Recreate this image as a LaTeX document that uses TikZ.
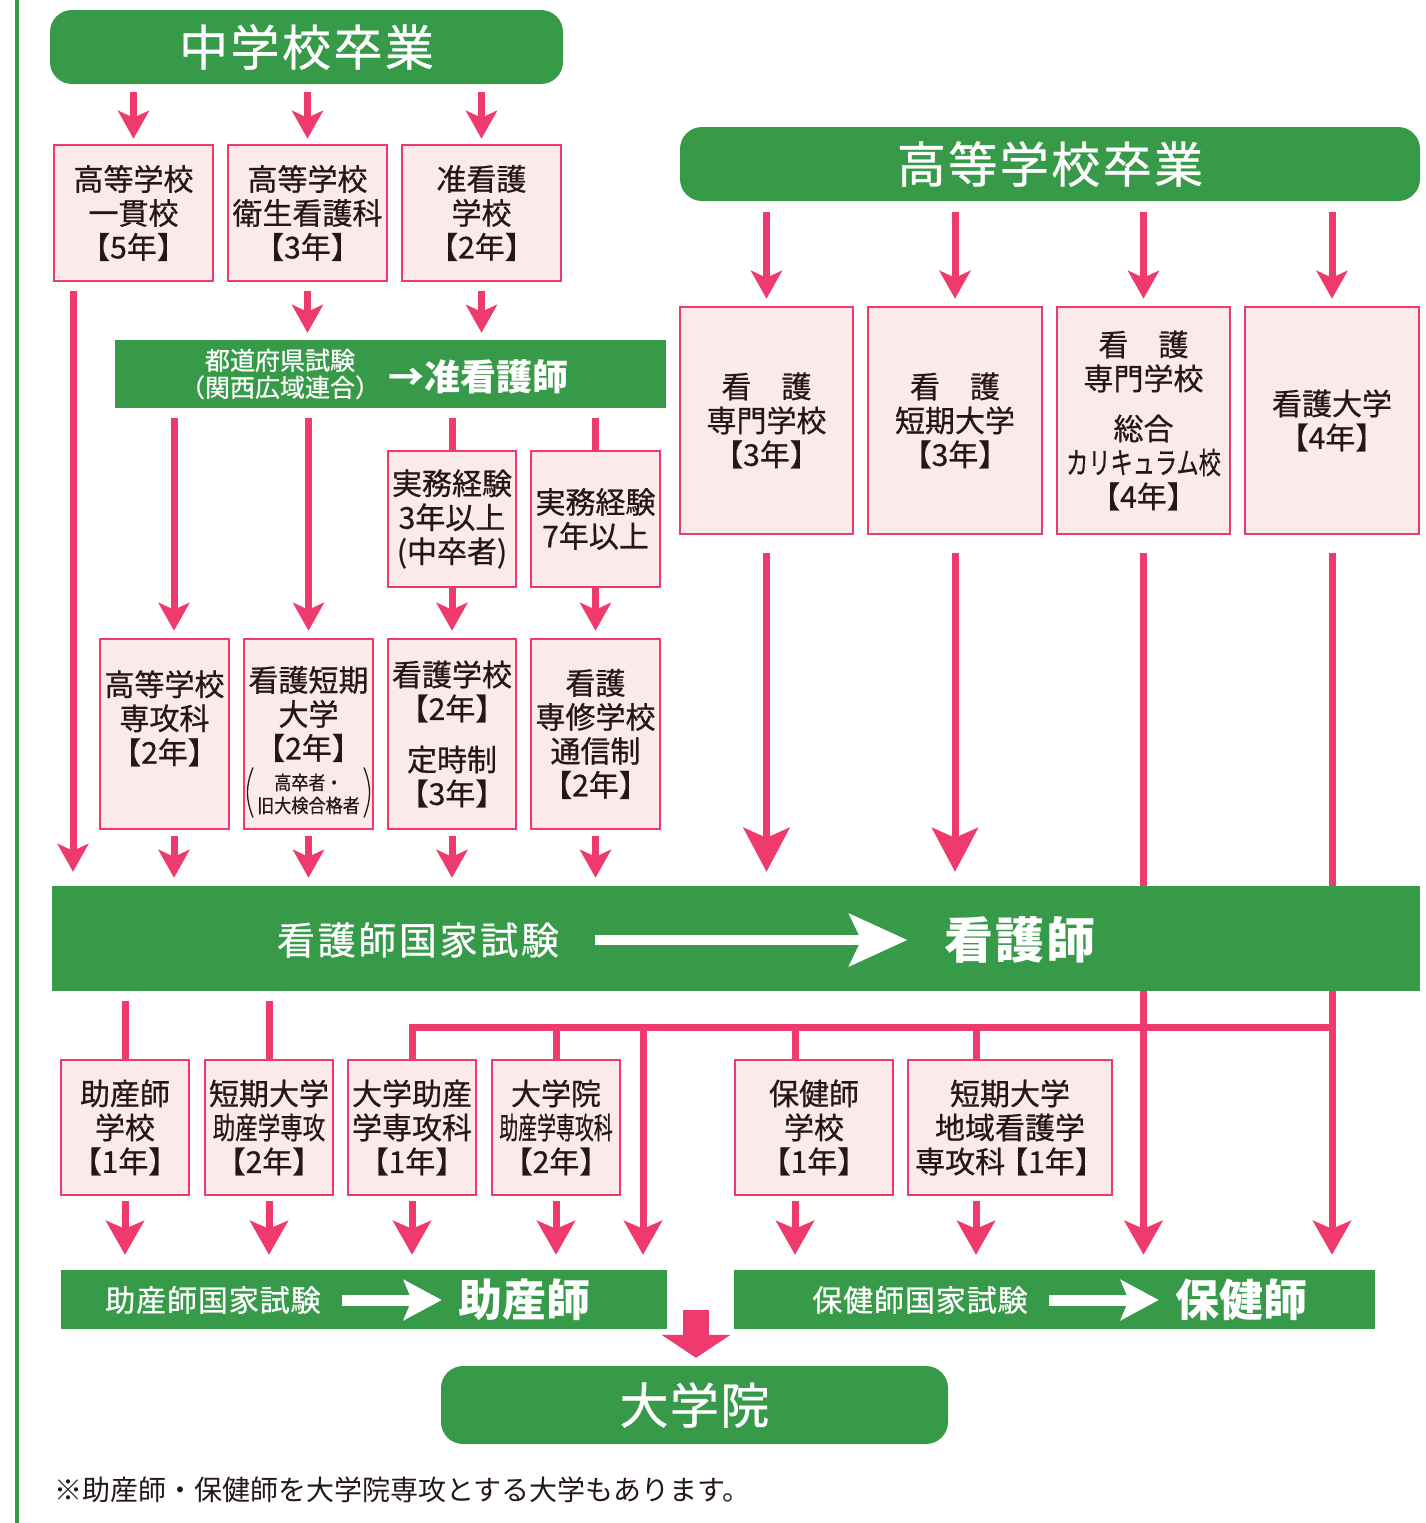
\documentclass[tikz,border=0pt]{standalone}
\usepackage{fontspec}
\newfontfamily\jp{Noto Sans CJK JP}
\newfontfamily\jpm{Noto Sans CJK JP}[FakeBold=0.7]
\usetikzlibrary{arrows.meta}
\definecolor{gr}{HTML}{379A48}
\definecolor{pk}{HTML}{EE3A6C}
\definecolor{bxf}{HTML}{FCE9EA}
\definecolor{tx}{HTML}{231815}
\pgfdeclarelayer{bg}
\pgfsetlayers{bg,main}
\newcommand\fs[2]{\fontsize{#1}{#2}\selectfont}
\newcommand\cnd[2]{\scalebox{#1}[1]{#2}}
\tikzset{
  bx/.style={draw=pk, fill=bxf, line width=2.5pt, inner sep=0pt, align=center, text=tx, font=\jpm\fs{30}{34}},
  btx/.style={inner sep=0pt, align=center, text=tx, font=\jpm\fs{30}{34}},
  gbar/.style={fill=gr, inner sep=0pt},
  rbar/.style={fill=gr, inner sep=0pt, rounded corners=22pt, text=white, font=\jpm\fs{49}{52}\addfontfeature{LetterSpace=5}},
  wt/.style={text=white, inner sep=0pt, align=center},
  pa/.style={draw=pk, line width=7pt, -{Stealth[length=28pt,width=31pt,inset=7pt]}},
  pb/.style={draw=pk, line width=7pt, -{Stealth[length=34pt,width=38pt,inset=8pt]}},
  pbig/.style={draw=pk, line width=7pt, -{Stealth[length=44pt,width=46pt,inset=10pt]}},
  pl/.style={draw=pk, line width=7pt},
  prn/.style={draw=tx, line width=1.3pt},
}
\begin{document}
\begin{tikzpicture}[x=1pt,y=-1pt]
\useasboundingbox (0,0) rectangle (1426,1523);
\draw[gr, line width=3.5pt] (17,0) -- (17,1523);

% ---- top left
\node[rbar, minimum width=513pt, minimum height=74pt] (jhs) at (306.5,47) {中学校卒業};
\node[bx, minimum width=159pt, minimum height=136pt] (b1) at (133.5,213) {高等学校\\一貫校\\【5年】};
\node[bx, minimum width=159pt, minimum height=136pt] (b2) at (307.5,213) {高等学校\\衛生看護科\\【3年】};
\node[bx, minimum width=159pt, minimum height=136pt] (b3) at (481.5,213) {准看護\\学校\\【2年】};

\node[gbar, minimum width=551pt, minimum height=68pt] (pref) at (390.5,374) {};
\node[wt, font=\jpm\fs{25}{27}] (pr1) at (280,374) {都道府県試験\\（関西広域連合）};
\node[wt, font=\jp\bfseries\fs{36}{40}] (pr2) at (478,377) {→准看護師};

\node[bx, minimum width=128pt, minimum height=136pt] (e1) at (452,519) {実務経験\\3年以上\\(中卒者)};
\node[bx, minimum width=129pt, minimum height=136pt] (e2) at (595.5,519) {実務経験\\7年以上};

\node[bx, minimum width=129pt, minimum height=190pt] (r1) at (164.5,734) {高等学校\\専攻科\\【2年】\\\mbox{}};
\node[bx, minimum width=129pt, minimum height=190pt] (r2) at (308.5,734) {};
\node[btx] (r2t) at (308.5,714) {看護短期\\大学\\【2年】};
\node[btx, font=\jpm\fs{19}{23}] (r2n) at (308.5,794) {\cnd{0.9}{高卒者・}\\\cnd{0.9}{旧大検合格者}};
\draw[prn] ([xshift=-4pt,yshift=6pt]r2n.north west) to[bend right=22] ([xshift=-4pt,yshift=-3pt]r2n.south west);
\draw[prn] ([xshift=4pt,yshift=6pt]r2n.north east) to[bend left=22] ([xshift=4pt,yshift=-3pt]r2n.south east);
\node[bx, minimum width=128pt, minimum height=190pt] (r3) at (452,734) {看護学校\\【2年】\\[17pt]定時制\\【3年】};
\node[bx, minimum width=129pt, minimum height=190pt] (r4) at (595.5,734) {看護\\専修学校\\通信制\\【2年】};

% ---- top right
\node[rbar, minimum width=740pt, minimum height=74pt] (hs) at (1050,164) {高等学校卒業};
\node[bx, minimum width=173pt, minimum height=227pt] (n1) at (766.5,420.5) {看　護\\専門学校\\【3年】};
\node[bx, minimum width=174pt, minimum height=227pt] (n2) at (955,420.5) {看　護\\短期大学\\【3年】};
\node[bx, minimum width=173pt, minimum height=227pt] (n3) at (1143.5,420.5) {看　護\\専門学校\\[16pt]総合\\\cnd{0.74}{カリキュラム校}\\【4年】};
\node[bx, minimum width=174pt, minimum height=227pt] (n4) at (1332,420.5) {看護大学\\【4年】};

% ---- exam bar
\node[gbar, minimum width=1368pt, minimum height=105pt] (exam) at (736,938.5) {};
\node[wt, font=\jpm\fs{38}{40}\addfontfeature{LetterSpace=7}] (ex1) at (418,940) {看護師国家試験};
\node[wt, font=\jp\bfseries\fs{49}{52}\addfontfeature{LetterSpace=4}] (ex2) at (1020,940) {看護師};

% ---- lower boxes
\node[bx, minimum width=128pt, minimum height=135pt] (m1) at (125,1127.5) {助産師\\学校\\【1年】};
\node[bx, minimum width=128pt, minimum height=135pt] (m2) at (269,1127.5) {短期大学\\\cnd{0.75}{助産学専攻}\\【2年】};
\node[bx, minimum width=128pt, minimum height=135pt] (m3) at (412,1127.5) {大学助産\\学専攻科\\【1年】};
\node[bx, minimum width=128pt, minimum height=135pt] (m4) at (556,1127.5) {大学院\\\cnd{0.63}{助産学専攻科}\\【2年】};
\node[bx, minimum width=158pt, minimum height=135pt] (p1) at (814,1127.5) {保健師\\学校\\【1年】};
\node[bx, minimum width=204pt, minimum height=135pt] (p2) at (1010,1127.5) {短期大学\\地域看護学\\専攻科\hspace{-7pt}【1年】};

\node[gbar, minimum width=606pt, minimum height=59pt] (mbar) at (364,1299.5) {};
\node[wt, font=\jpm\fs{30}{34}\addfontfeature{LetterSpace=3}] (mt1) at (213,1300) {助産師国家試験};
\node[wt, font=\jp\bfseries\fs{44}{48}] (mt2) at (524,1300) {助産師};
\node[gbar, minimum width=641pt, minimum height=59pt] (pbar) at (1054.5,1299.5) {};
\node[wt, font=\jpm\fs{30}{34}\addfontfeature{LetterSpace=3}] (pt1) at (920,1300) {保健師国家試験};
\node[wt, font=\jp\bfseries\fs{44}{48}] (pt2) at (1241,1300) {保健師};

\node[rbar, minimum width=507pt, minimum height=78pt, font=\jpm\fs{49}{52}\addfontfeature{LetterSpace=3}] (grad) at (694.5,1405) {大学院};

\node[anchor=west, inner sep=0pt, text=tx, font=\jp\fs{28}{30}] (note) at (54,1490) {※助産師・保健師を大学院専攻とする大学もあります。};

% ---- connectors
\begin{pgfonlayer}{bg}
\foreach \t in {b1,b2,b3} \draw[pa, shorten <=8pt, shorten >=5pt] (jhs.south -| \t.north) -- (\t.north);
\coordinate (c1) at ([xshift=-60.5pt]b1.south);
\draw[pa, shorten <=9pt, shorten >=14pt] (c1) -- (exam.north -| c1);
\foreach \t in {b2,b3} \draw[pa, shorten <=9pt, shorten >=7pt] (\t.south) -- (pref.north -| \t.south);
\coordinate (c2) at ([xshift=9.5pt]r1.north);
\draw[pa, shorten <=10pt, shorten >=7pt] (pref.south -| c2) -- (c2);
\draw[pa, shorten <=10pt, shorten >=7pt] (pref.south -| r2.north) -- (r2.north);
\foreach \t in {e1,e2} \draw[pl, shorten <=10pt] (pref.south -| \t.north) -- (\t.north);
\draw[pa, shorten >=7pt] (e1.south) -- (r3.north);
\draw[pa, shorten >=7pt] (e2.south) -- (r4.north);
\draw[pa, shorten <=6pt, shorten >=8pt] (c2 |- r1.south) -- (exam.north -| c2);
\foreach \t in {r2,r3,r4} \draw[pa, shorten <=6pt, shorten >=8pt] (\t.south) -- (exam.north -| \t.south);
\foreach \t in {n1,n2,n3,n4} \draw[pa, shorten <=11pt, shorten >=7pt] (hs.south -| \t.north) -- (\t.north);
\foreach \t in {n1,n2} \draw[pbig, shorten <=18pt, shorten >=14pt] (\t.south) -- (exam.north -| \t.south);
\foreach \t in {n3,n4} \draw[pb, shorten <=18pt, shorten >=15pt] (\t.south) -- (pbar.north -| \t.south);
\foreach \t in {m1,m2} \draw[pl, shorten <=10pt] (exam.south -| \t.north) -- (\t.north);
\coordinate (hl) at (0,1027);
\draw[pl] (m3.north) -- (m3.north |- hl) -- ([xshift=3.5pt]hl -| n4.south);
\draw[pl] (m4.north |- hl) -- (m4.north);
\coordinate (c3) at ([xshift=-19pt]p1.north);
\coordinate (c4) at ([xshift=-34pt]p2.north);
\draw[pl] (c3 |- hl) -- (c3);
\draw[pl] (c4 |- hl) -- (c4);
\coordinate (c5) at ([xshift=87pt]m4.north |- hl);
\draw[pb, shorten >=15pt] (c5) -- (mbar.north -| c5);
\foreach \t in {m1,m2,m3,m4} \draw[pb, shorten <=5pt, shorten >=15pt] (\t.south) -- (mbar.north -| \t.south);
\draw[pb, shorten <=5pt, shorten >=15pt] (c3 |- p1.south) -- (pbar.north -| c3);
\draw[pb, shorten <=5pt, shorten >=15pt] (c4 |- p2.south) -- (pbar.north -| c4);
\end{pgfonlayer}

% white arrows inside bars
\draw[white, line width=10pt, -{Stealth[length=58pt,width=52pt,inset=12pt]}, shorten <=36pt, shorten >=37pt] (ex1.east) -- (ex2.west);
\draw[white, line width=11pt, -{Stealth[length=38pt,width=40pt,inset=8pt]}, shorten <=21pt, shorten >=16pt] (mt1.east) -- (mt2.west);
\draw[white, line width=11pt, -{Stealth[length=38pt,width=40pt,inset=8pt]}, shorten <=21pt, shorten >=16pt] (pt1.east) -- (pt2.west);

% block arrow to graduate school
\coordinate (c6) at ([xshift=1.5pt]grad.north |- mbar.south);
\coordinate (c7) at (grad.north -| c6);
\draw[pk, line width=26pt, -{Triangle[length=23pt,width=68pt]}] ([yshift=19pt]c6) -- ([yshift=8pt]c7);
\end{tikzpicture}
\end{document}
